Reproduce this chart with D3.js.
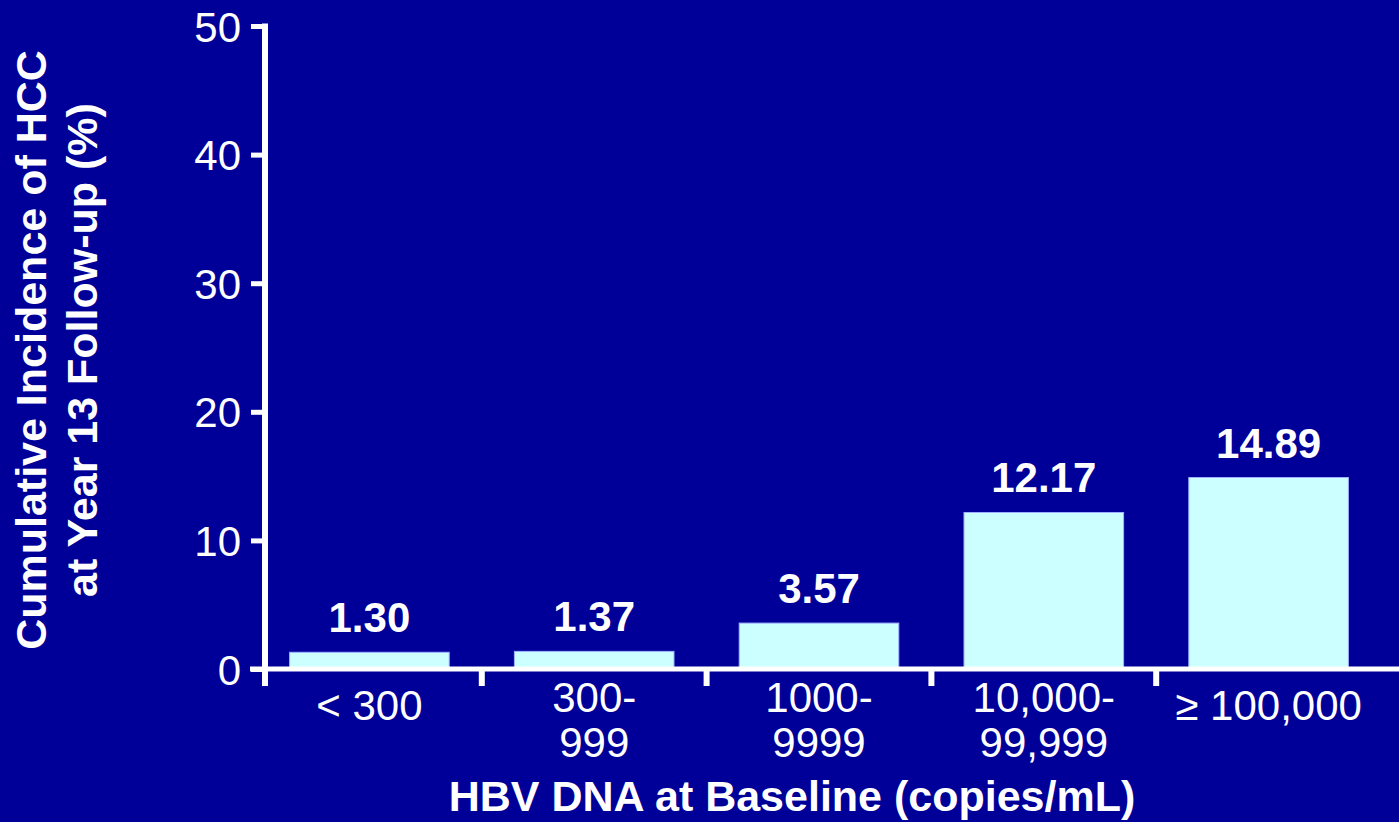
<!DOCTYPE html>
<html>
<head>
<meta charset="utf-8">
<script src="https://cdn.jsdelivr.net/npm/d3@7"></script>
<style>
  html, body { margin: 0; padding: 0; background: #000099; }
  svg { display: block; }
  text { font-family: "Liberation Sans", Arial, sans-serif; fill: #ffffff; }
</style>
</head>
<body>
<svg id="chart" width="1399" height="822"></svg>
<script>
// HBV DNA level groups and cumulative HCC incidence (%)
const categories = ["< 300", "300-\n999", "1000-\n9999", "10,000-\n99,999", "\u2265 100,000"];
const incidence = [1.30, 1.37, 3.57, 12.17, 14.89];
const valueLabels = ["1.30", "1.37", "3.57", "12.17", "14.89"];
const yTicks = [0, 10, 20, 30, 40, 50];

const svg = d3.select("#chart");
const W = 1399, H = 822;

svg.append("rect").attr("width", W).attr("height", H).attr("fill", "#000099");

const y = d3.scaleLinear().domain([0, 50]).range([669, 26]);
const x = d3.scaleBand().domain(categories).range([257, 1381]).paddingInner(0.29).paddingOuter(0.145);
const axisX = 265;

// bars
svg.selectAll("rect.bar")
  .data(incidence)
  .join("rect")
  .attr("class", "bar")
  .attr("x", (d, i) => x(categories[i]))
  .attr("width", x.bandwidth())
  .attr("y", d => y(d))
  .attr("height", d => y(0) - y(d))
  .attr("fill", "#ccffff")
  .attr("stroke", "#9fb0ff")
  .attr("stroke-width", 1);

// value labels above bars
svg.selectAll("text.val")
  .data(incidence)
  .join("text")
  .attr("class", "val")
  .attr("x", (d, i) => x(categories[i]) + x.bandwidth() / 2)
  .attr("y", d => y(d) - 20)
  .attr("text-anchor", "middle")
  .attr("font-size", 42)
  .attr("font-weight", "bold")
  .text((d, i) => valueLabels[i]);

// y axis
const yAxis = d3.axisLeft(y).tickValues(yTicks).tickSize(14).tickPadding(10).tickFormat(d3.format("d"));
const gy = svg.append("g").attr("transform", `translate(${axisX},0)`).call(yAxis);
gy.select(".domain").remove();
gy.selectAll(".tick line").attr("stroke", "#ffffff").attr("stroke-width", 5);
gy.selectAll(".tick text").attr("font-size", 42).attr("fill", "#ffffff")
  .attr("font-family", "'Liberation Sans', Arial, sans-serif").attr("dy", "0.36em");
svg.append("line")
  .attr("x1", axisX).attr("x2", axisX)
  .attr("y1", y(50) - 2.5).attr("y2", y(0) + 17)
  .attr("stroke", "#ffffff").attr("stroke-width", 6);

// x axis line and category separators
svg.append("line")
  .attr("x1", 250).attr("x2", W)
  .attr("y1", y(0)).attr("y2", y(0))
  .attr("stroke", "#ffffff").attr("stroke-width", 5);
const step = x.step();
svg.selectAll("line.sep")
  .data(categories.slice(1))
  .join("line")
  .attr("class", "sep")
  .attr("x1", d => x(d) - step * x.paddingInner() / 2)
  .attr("x2", d => x(d) - step * x.paddingInner() / 2)
  .attr("y1", y(0)).attr("y2", y(0) + 17)
  .attr("stroke", "#ffffff").attr("stroke-width", 6);

// category labels (one or two lines)
const catG = svg.selectAll("text.cat")
  .data(categories)
  .join("text")
  .attr("class", "cat")
  .attr("text-anchor", "middle")
  .attr("font-size", 42)
  .attr("transform", d => `translate(${x(d) + x.bandwidth() / 2},0)`);
catG.each(function (d) {
  const lines = d.split("\n");
  const t = d3.select(this);
  lines.forEach((ln, k) => {
    t.append("tspan").attr("x", 0)
      .attr("y", lines.length > 1 ? 712 + k * 45 : 720)
      .text(ln);
  });
});

// axis titles
svg.append("text")
  .attr("x", 792).attr("y", 811)
  .attr("text-anchor", "middle")
  .attr("font-size", 43).attr("font-weight", "bold")
  .text("HBV DNA at Baseline (copies/mL)");

const yTitle = svg.append("text")
  .attr("transform", "translate(0,350) rotate(-90)")
  .attr("text-anchor", "middle")
  .attr("font-size", 43).attr("font-weight", "bold");
yTitle.append("tspan").attr("x", 0).attr("y", 46).text("Cumulative Incidence of HCC");
yTitle.append("tspan").attr("x", 0).attr("y", 97).text("at Year 13 Follow-up (%)");
</script>
</body>
</html>
